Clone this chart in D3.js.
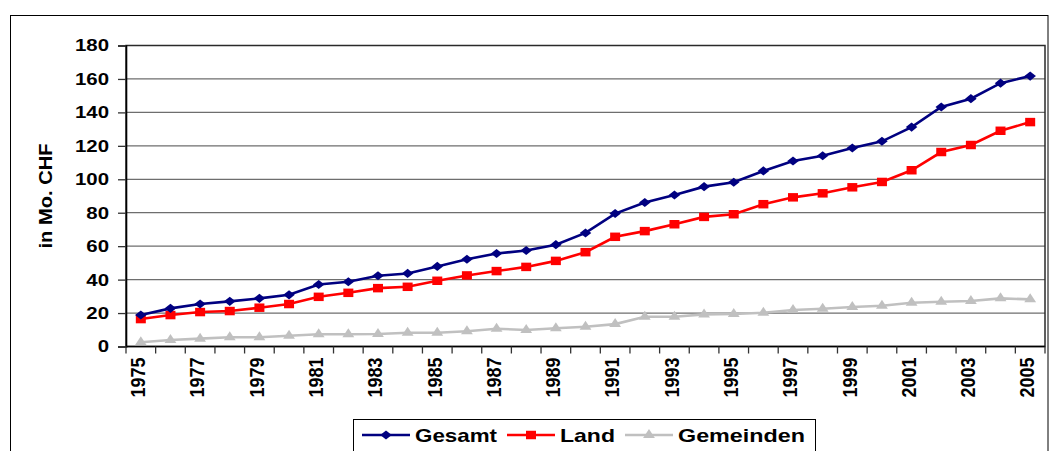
<!DOCTYPE html>
<html>
<head>
<meta charset="utf-8">
<script src="https://cdn.jsdelivr.net/npm/d3@7"></script>
<style>
  body { margin: 0; background: #fff; }
  text { font-family: "Liberation Sans", Arial, sans-serif; font-weight: bold; fill: #000; }
</style>
</head>
<body>
<svg id="chart" width="1050" height="451"></svg>
<script>
// data (Mio. CHF)
var years = d3.range(1975, 2006);
var gesamt = [18.8, 22.8, 25.4, 27, 28.8, 30.9, 37.1, 38.7, 42.3, 43.7, 47.9, 52.2, 55.6, 57.4, 60.9,
  67.9, 79.5, 86.1, 90.6, 95.6, 98.2, 105, 110.9, 114.1, 118.7, 122.7, 131.2, 143.2, 148.2, 157.5, 161.7];
var land = [16.4, 18.8, 20.6, 21.2, 23.2, 25.4, 29.7, 32.1, 34.9, 35.7, 39.3, 42.5, 45.1, 47.6, 51.2,
  56.4, 65.6, 69, 73.1, 77.5, 79.1, 85.1, 89.2, 91.6, 95.2, 98.4, 105.4, 116.3, 120.5, 129, 134.2];
var gemeinden = [2.5, 3.9, 4.7, 5.5, 5.5, 6.4, 7.3, 7.3, 7.5, 8.2, 8.2, 9.1, 10.6, 9.9, 10.9,
  11.8, 13.4, 17.8, 17.8, 19.2, 19.4, 20.2, 21.8, 22.6, 23.6, 24.4, 26.2, 26.8, 27.2, 28.8, 28.2];
var yTicks = [0, 20, 40, 60, 80, 100, 120, 140, 160, 180];
var xLabels = years.filter(function(d) { return d % 2 === 1; });
var seriesNames = ["Gesamt", "Land", "Gemeinden"];

var margin = { top: 45.5, right: 5, bottom: 104.5, left: 126 };
var width = 1050, height = 451;

var svg = d3.select("#chart");

// stretch text horizontally (the original picture is wider than tall)
function stretch(sel, k) {
  sel.each(function() {
    var w = this.getComputedTextLength();
    d3.select(this).attr("textLength", w * k).attr("lengthAdjust", "spacingAndGlyphs");
  });
}

// outer frame
svg.append("rect")
  .attr("x", 10.5).attr("y", 15.5)
  .attr("width", 1037.5).attr("height", 460)
  .attr("fill", "none").attr("stroke", "#000").attr("stroke-width", 1);

var x = d3.scaleBand()
  .domain(years)
  .range([margin.left, width - margin.right])
  .padding(0);

var y = d3.scaleLinear()
  .domain([0, 180])
  .range([height - margin.bottom, margin.top]);

// grid lines
svg.append("g")
  .selectAll("line")
  .data(yTicks.filter(function(d) { return d > 0 && d < 180; }))
  .enter()
  .append("line")
  .attr("x1", margin.left).attr("x2", width - margin.right)
  .attr("y1", function(d) { return y(d); }).attr("y2", function(d) { return y(d); })
  .attr("stroke", "#6e6e6e").attr("stroke-width", 1.3);

// plot area border
svg.append("rect")
  .attr("x", margin.left).attr("y", y(180))
  .attr("width", width - margin.right - margin.left)
  .attr("height", y(0) - y(180))
  .attr("fill", "none").attr("stroke", "#2a2a2a").attr("stroke-width", 1.5);

// y axis
var yAxis = svg.append("g")
  .attr("transform", "translate(" + margin.left + ",0)")
  .call(d3.axisLeft(y).tickValues(yTicks).tickSize(8).tickPadding(9));
yAxis.select(".domain").attr("stroke", "#000").attr("stroke-width", 1.6);
yAxis.selectAll(".tick line").attr("stroke", "#333").attr("stroke-width", 1.3);
yAxis.selectAll("text")
  .style("font-family", "'Liberation Sans', Arial, sans-serif")
  .style("font-weight", "bold")
  .style("font-size", "17px")
  .attr("fill", "#000");
stretch(yAxis.selectAll("text"), 1.2);

// x axis: line, ticks between categories, rotated labels
svg.append("line")
  .attr("x1", margin.left).attr("x2", width - margin.right)
  .attr("y1", y(0)).attr("y2", y(0))
  .attr("stroke", "#000").attr("stroke-width", 1.6);

var bounds = years.map(function(d) { return x(d); }).concat([x.range()[1]]);
svg.append("g")
  .selectAll("line")
  .data(bounds)
  .enter()
  .append("line")
  .attr("x1", function(d) { return d; }).attr("x2", function(d) { return d; })
  .attr("y1", y(0)).attr("y2", y(0) + 7)
  .attr("stroke", "#333").attr("stroke-width", 1.3);

svg.append("g")
  .selectAll("g")
  .data(xLabels)
  .enter()
  .append("g")
  .attr("transform", function(d) { return "translate(" + (x(d) + x.bandwidth() / 2 - 3) + "," + (y(0) + 11) + ")"; })
  .append("text")
  .attr("transform", "rotate(-90) scale(1,1.12)")
  .attr("text-anchor", "end")
  .attr("dy", "0.36em")
  .style("font-size", "18px")
  .text(function(d) { return d; });

// y title
svg.append("text")
  .attr("transform", "translate(52,196) rotate(-90)")
  .attr("text-anchor", "middle")
  .attr("textLength", 105)
  .attr("lengthAdjust", "spacingAndGlyphs")
  .style("font-size", "18px")
  .text("in Mo. CHF");

// series
var colors = ["#000080", "#ff0000", "#c0c0c0"];
var allSeries = [gesamt, land, gemeinden];
var diamond = d3.symbol().type(d3.symbolSquare).size(46)();
var square = d3.symbol().type(d3.symbolSquare).size(72)();
var triangle = d3.symbol().type(d3.symbolTriangle).size(52)();
var markerPaths = [diamond, square, triangle];
var markerXf = ["scale(1.2,0.95) rotate(45)", "scale(1.18,1)", "scale(1.08,0.95)"];

var line = d3.line()
  .x(function(d, i) { return x(years[i]) + x.bandwidth() / 2; })
  .y(function(d) { return y(d); });

// draw grey first so the others are on top
[2, 1, 0].forEach(function(s) {
  var g = svg.append("g");
  g.append("path")
    .datum(allSeries[s])
    .attr("d", line)
    .attr("fill", "none")
    .attr("stroke", colors[s])
    .attr("stroke-width", 2.6);
  g.selectAll(".m")
    .data(allSeries[s])
    .enter()
    .append("path")
    .attr("class", "m")
    .attr("d", markerPaths[s])
    .attr("fill", colors[s])
    .attr("transform", function(d, i) {
      return "translate(" + (x(years[i]) + x.bandwidth() / 2) + "," + y(d) + ") " + markerXf[s];
    });
});

// legend
var legend = svg.append("g");
legend.append("rect")
  .attr("x", 353.5).attr("y", 419.5)
  .attr("width", 462).attr("height", 60)
  .attr("fill", "#fff").attr("stroke", "#000").attr("stroke-width", 1);

var legX = [362, 507, 625];
var legTextX = [415, 560, 678];
var legTextW = [82, 55, 127];
seriesNames.forEach(function(name, s) {
  legend.append("line")
    .attr("x1", legX[s]).attr("x2", legX[s] + 48)
    .attr("y1", 435).attr("y2", 435)
    .attr("stroke", colors[s]).attr("stroke-width", 2.6);
  legend.append("path")
    .attr("d", markerPaths[s])
    .attr("fill", colors[s])
    .attr("transform", "translate(" + (legX[s] + 24) + ",435) " + markerXf[s]);
  legend.append("text")
    .attr("x", legTextX[s]).attr("y", 442)
    .attr("textLength", legTextW[s])
    .attr("lengthAdjust", "spacingAndGlyphs")
    .style("font-size", "19px")
    .text(name);
});
</script>
</body>
</html>
